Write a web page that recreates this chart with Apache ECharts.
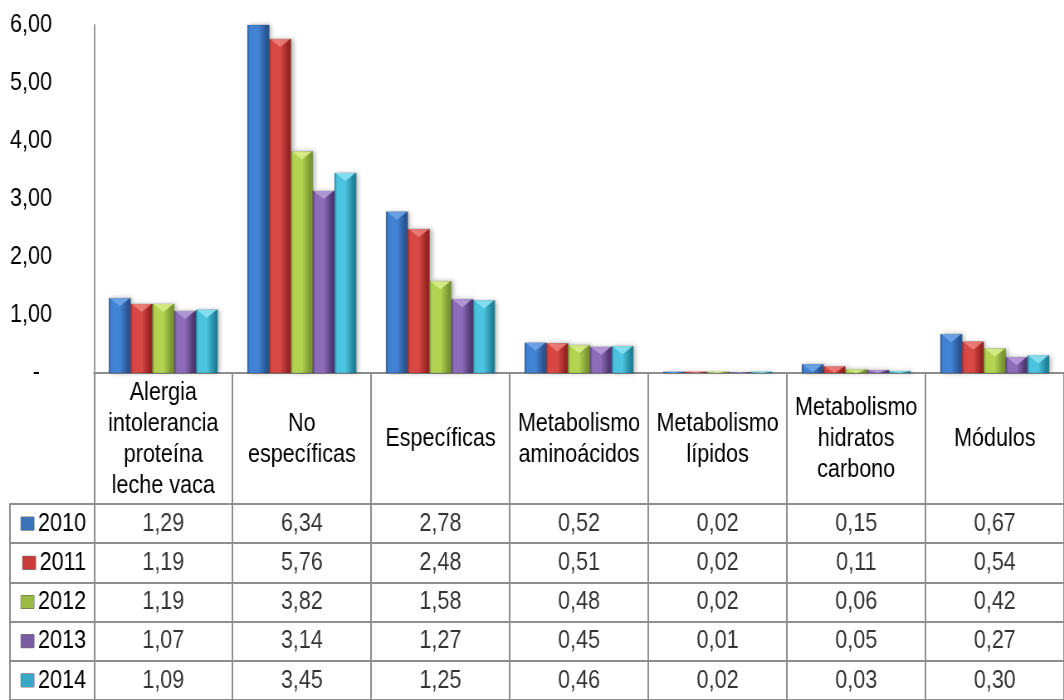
<!DOCTYPE html>
<html>
<head>
<meta charset="utf-8">
<style>
  html, body { margin: 0; padding: 0; background: #fff; overflow: hidden; }
  /* The chart is laid out wider and squeezed horizontally so the text
     gets the narrow look of a condensed sans face */
  #chart { width: 1282px; height: 700px; transform: scaleX(0.83); transform-origin: 0 0; }
</style>
<script src="https://cdn.jsdelivr.net/npm/echarts@6/dist/echarts.min.js"></script>
</head>
<body>
<div id="chart"></div>
<script>
// Category names as printed in the table header (line breaks included)
const categories = [
  'Alergia\nintolerancia\nproteína\nleche vaca',
  'No\nespecíficas',
  'Específicas',
  'Metabolismo\naminoácidos',
  'Metabolismo\nlípidos',
  'Metabolismo\nhidratos\ncarbono',
  'Módulos'
];

const years = ['2010', '2011', '2012', '2013', '2014'];

const values2010 = [1.29, 6.34, 2.78, 0.52, 0.02, 0.15, 0.67];
const values2011 = [1.19, 5.76, 2.48, 0.51, 0.02, 0.11, 0.54];
const values2012 = [1.19, 3.82, 1.58, 0.48, 0.02, 0.06, 0.42];
const values2013 = [1.07, 3.14, 1.27, 0.45, 0.01, 0.05, 0.27];
const values2014 = [1.09, 3.45, 1.25, 0.46, 0.02, 0.03, 0.30];

const seriesValues = [values2010, values2011, values2012, values2013, values2014];

const yTicks = [0, 1, 2, 3, 4, 5, 6];
const Y_MIN = yTicks[0];
const Y_MAX = yTicks[yTicks.length - 1];

// Shading per year: [dark edge, light centre, dark edge, top bevel]
const palette = [
  ['#2a5895', '#4283d3', '#295391', '#6fa4e6'],
  ['#a02525', '#d84946', '#962222', '#ec7d78'],
  ['#7e9e30', '#b3d352', '#779530', '#d6ec8a'],
  ['#573d7a', '#8d6cba', '#503872', '#b49ad8'],
  ['#23889f', '#4cc3df', '#208098', '#8ae2f2']
];
const swatch = ['#3b73b9', '#c83c3a', '#9cbb45', '#7a5ca3', '#38a9c4'];

const FONT = "'Liberation Sans', Arial, sans-serif";
const FS = 26;
const GRID_LINE = '#8e8e8e';
const SX = 0.83;              // horizontal squeeze applied by CSS
const px = v => v / SX;       // screen px -> layout px (horizontal)
const GAP = 0.215;            // share of a category left empty around its bars

const fmt = v => v.toFixed(2).replace('.', ',');

const richIcons = {};
swatch.forEach((c, i) => {
  richIcons['c' + i] = {
    width: px(13), height: 13, backgroundColor: c,
    borderColor: '#555', borderWidth: 0.5
  };
});
richIcons.t = { fontSize: FS, fontFamily: FONT, color: '#000', padding: [0, 0, 0, px(4)] };

// Bevelled bar: shaded body plus a light triangle under the top edge
function makeBarRenderer(i, n) {
  return function (params, api) {
    const cat = api.value(0);
    const v = api.value(1);
    const base = api.coord([cat, Y_MIN]);
    const tip = api.coord([cat, v]);
    const limit = api.coord([cat, Y_MAX])[1];
    const band = api.size([1, 0])[0];
    const groupW = band * (1 - GAP);
    const bw = groupW / n;
    const x = base[0] - groupW / 2 + i * bw;
    const clipped = tip[1] < limit;
    const yTop = clipped ? limit : tip[1];
    const h = Math.max(base[1] - yTop, 0.8);
    const c = palette[i];
    const children = [{
      type: 'rect',
      shape: { x: x, y: base[1] - h, width: bw, height: h },
      style: {
        fill: {
          type: 'linear', x: 0, y: 0, x2: 1, y2: 0,
          colorStops: [
            { offset: 0, color: c[0] },
            { offset: 0.12, color: c[1] },
            { offset: 0.5, color: c[1] },
            { offset: 0.88, color: c[2] },
            { offset: 1, color: c[0] }
          ]
        },
        stroke: 'rgba(0,0,0,0.25)',
        lineWidth: 0.6,
        shadowColor: 'rgba(0,0,0,0.28)',
        shadowBlur: 5,
        shadowOffsetX: 3,
        shadowOffsetY: 0
      }
    }];
    if (!clipped) {
      const th = Math.min(8, h);
      children.push({
        type: 'polygon',
        shape: { points: [[x + 1, base[1] - h], [x + bw - 1, base[1] - h], [x + bw / 2, base[1] - h + th]] },
        style: { fill: c[3], opacity: 0.9 }
      });
    }
    return { type: 'group', children: children };
  };
}

const barSeries = years.map((y, i) => ({
  name: y,
  type: 'custom',
  xAxisIndex: 0,
  yAxisIndex: 0,
  renderItem: makeBarRenderer(i, years.length),
  encode: { x: 0, y: 1 },
  data: seriesValues[i].map((v, c) => [c, v])
}));

// Cell values of the data table, one text-only series per year
const cellSeries = years.map((y, i) => ({
  type: 'scatter',
  xAxisIndex: 1,
  yAxisIndex: 1,
  symbolSize: 0,
  silent: true,
  data: seriesValues[i].map((v, c) => [c, i, v]),
  label: {
    show: true,
    position: 'inside',
    fontSize: FS,
    fontFamily: FONT,
    color: '#000',
    formatter: p => fmt(p.data[2])
  }
}));

const option = {
  animation: false,
  backgroundColor: '#fff',
  grid: [
    { left: px(94), right: 0, top: 25, height: 348 },
    { left: px(94), right: 0, top: 504, height: 197 }
  ],
  xAxis: [
    {
      type: 'category',
      gridIndex: 0,
      data: categories,
      axisLine: { show: true, lineStyle: { color: GRID_LINE, width: 2 } },
      axisTick: { show: true, length: 131, interval: 0, lineStyle: { color: GRID_LINE, width: 2 } },
      axisLabel: {
        interval: 0,
        margin: 66,
        verticalAlign: 'middle',
        lineHeight: 31,
        fontSize: FS,
        fontFamily: FONT,
        color: '#000'
      },
      splitLine: { show: false }
    },
    {
      type: 'category',
      gridIndex: 1,
      position: 'top',
      data: categories,
      axisLine: { show: false },
      axisTick: { show: false },
      axisLabel: { show: false },
      splitLine: { show: true, interval: 0, lineStyle: { color: GRID_LINE, width: 2 } }
    }
  ],
  yAxis: [
    {
      type: 'value',
      gridIndex: 0,
      min: Y_MIN,
      max: Y_MAX,
      interval: 1,
      axisLine: { show: true, lineStyle: { color: '#a0a0a0', width: 2 } },
      axisTick: { show: false },
      splitLine: { show: false },
      axisLabel: {
        margin: px(42),
        fontSize: FS,
        fontFamily: FONT,
        color: '#000',
        formatter: v => (v === 0 ? '{z|-}' : fmt(v)),
        rich: { z: { fontSize: FS, fontFamily: FONT, color: '#000', padding: [0, px(12), 0, 0] } }
      }
    },
    {
      type: 'category',
      gridIndex: 1,
      inverse: true,
      data: years,
      axisLine: { show: true, lineStyle: { color: GRID_LINE, width: 2 } },
      axisTick: { show: true, length: px(84), interval: 0, lineStyle: { color: GRID_LINE, width: 2 } },
      splitLine: { show: true, interval: 0, lineStyle: { color: GRID_LINE, width: 2 } },
      axisLabel: {
        margin: px(8),
        interval: 0,
        formatter: (v, idx) => '{c' + idx + '|}{t|' + v + '}',
        rich: richIcons
      }
    },
    {
      type: 'category',
      gridIndex: 1,
      inverse: true,
      position: 'left',
      offset: px(84),
      data: years,
      axisLine: { show: true, lineStyle: { color: GRID_LINE, width: 2 } },
      axisTick: { show: false },
      axisLabel: { show: false },
      splitLine: { show: false }
    }
  ],
  series: barSeries.concat(cellSeries)
};

const chart = echarts.init(document.getElementById('chart'), null, { renderer: 'canvas' });
chart.setOption(option);
</script>
</body>
</html>
